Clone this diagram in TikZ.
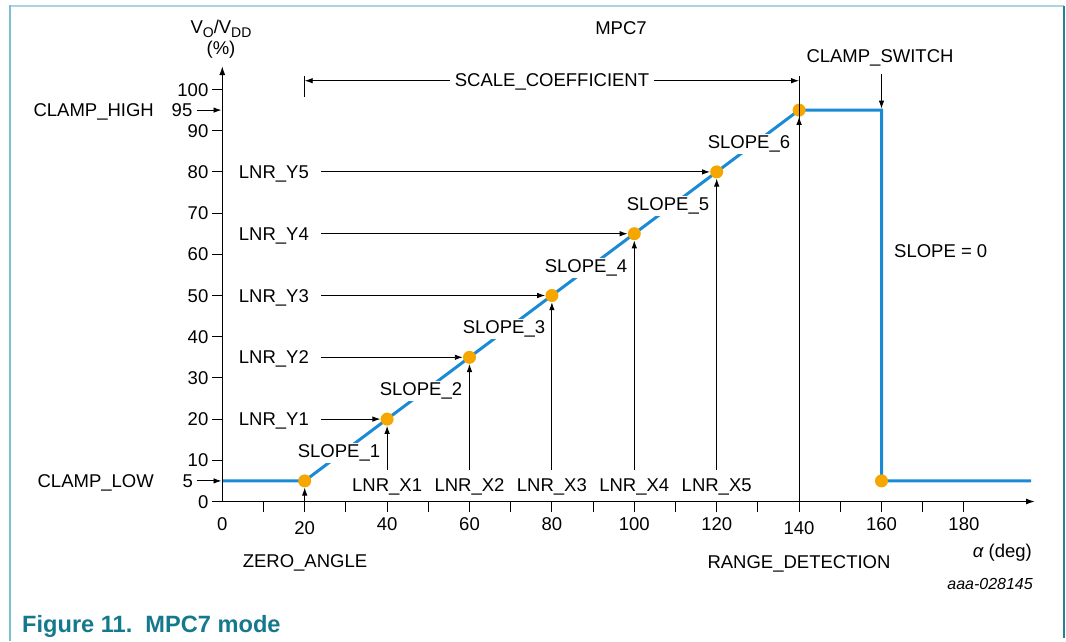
\documentclass[tikz,border=0pt]{standalone}
\usepackage{fontspec}
\setmainfont{Liberation Sans}
\usetikzlibrary{arrows.meta}
\definecolor{curveblue}{HTML}{1A8AD4}
\definecolor{dotorange}{HTML}{F5A700}
\definecolor{captionteal}{HTML}{14798C}
\definecolor{frametop}{HTML}{A9D5E0}
\definecolor{frameleft}{HTML}{7BBFD0}
\definecolor{frameright}{HTML}{1E8595}
\newcommand{\mysub}[1]{\raisebox{-4pt}{\fontsize{14}{14}\selectfont #1}}
\begin{document}
\begin{tikzpicture}[x=1pt,y=-1pt,
  lbl/.style={font=\fontsize{18.5}{20}\selectfont, inner sep=0pt, text height=13pt, text depth=0pt},
  slopelbl/.style={lbl, fill=white, inner sep=1.5pt, text depth=4pt},
  arr/.style={-{Latex[length=8pt,width=5.5pt]}, line width=0.9pt},
  axisln/.style={line width=1.4pt},
  tickln/.style={line width=1pt},
  thinln/.style={line width=0.9pt},
  curveln/.style={line width=3pt, draw=curveblue, line join=miter},
  dotnode/.style={circle, fill=dotorange, minimum size=13pt, inner sep=0pt},
]
\useasboundingbox (0,0) rectangle (1066,641);
% frame
\draw[frametop, line width=2pt] (9,6) -- (1064,6);
\draw[frameleft, line width=2pt] (10,5) -- (10,641);
\draw[frameright, line width=1.5pt] (1064,6) -- (1064,638);

% data points
\coordinate (p0) at (222.3,480.9);
\coordinate (p1) at (304.7,480.9);
\coordinate (p2) at (387.1,419.1);
\coordinate (p3) at (469.5,357.3);
\coordinate (p4) at (551.9,295.5);
\coordinate (p5) at (634.3,233.7);
\coordinate (p6) at (716.7,171.9);
\coordinate (p7) at (799.1,110.1);
\coordinate (p8) at (881.5,110.1);
\coordinate (p9) at (881.5,480.9);
\coordinate (p10) at (1031,480.9);

% curve
\draw[curveln] (p0) -- (p1) -- (p2) -- (p3) -- (p4) -- (p5) -- (p6) -- (p7) -- (p8) -- (p9) -- (p10);

% slope labels (white background breaks the curve)
\node[slopelbl] (s1) at (339,453) {SLOPE\_1};
\node[slopelbl] (s2) at (421,391) {SLOPE\_2};
\node[slopelbl] (s3) at (504,329) {SLOPE\_3};
\node[slopelbl] (s4) at (586,268) {SLOPE\_4};
\node[slopelbl] (s5) at (668,206) {SLOPE\_5};
\node[slopelbl] (s6) at (749,144) {SLOPE\_6};
\node[lbl,anchor=west] (s0) at (894,251) {SLOPE = 0};

% axes
\coordinate (xa0) at (212,501.5);
\coordinate (xa1) at (1035,501.5);
\coordinate (ya0) at (222.3,501.5);
\coordinate (ya1) at (222.3,66);
\draw[axisln,-{Latex[length=9pt,width=6pt]}] (xa0) -- (xa1);
\draw[axisln,-{Latex[length=9pt,width=6pt]}] (ya0) -- (ya1);

% y ticks
\foreach \v in {10,20,...,100}{
  \draw[tickln] (212,{501.5-4.12*\v}) -- (222.3,{501.5-4.12*\v});
}
\foreach \v in {0,10,20,...,100}{
  \node[lbl,anchor=east] (yt\v) at (208.5,{501.5-4.12*\v}) {\v};
}
\node[lbl,anchor=east] (yt95) at (192.5,110.1) {95};
\node[lbl,anchor=east] (yt5) at (193,480.9) {5};
\coordinate (a95) at (197,110.1);
\coordinate (a5) at (197,480.9);
\coordinate (ax95) at (221.5,110.1);
\coordinate (ax5) at (221.5,480.9);
\draw[arr] (a95) -- (ax95);
\draw[arr] (a5) -- (ax5);

% x ticks
\foreach \v in {10,20,...,180}{
  \draw[tickln] ({222.3+4.12*\v},501.5) -- ({222.3+4.12*\v},511.5);
}
\foreach \v in {0,40,60,80,100,120,160,180}{
  \node[lbl] (xt\v) at ({222.3+4.12*\v},524) {\v};
}
\node[lbl] (xt20) at (304.7,528) {20};
\node[lbl] (xt140) at (799.1,528) {140};

% axis titles
\node[font=\fontsize{18.5}{20}\selectfont, inner sep=0pt, anchor=base] (ytitle) at (221,33.5) {V\mysub{O}/V\mysub{DD}};
\node[font=\fontsize{18.5}{20}\selectfont, inner sep=0pt, anchor=base] (yunit) at (221,54.4) {(\%)};
\node[lbl,anchor=east] (xtitle) at (1032,551) {{\itshape α} (deg)};
\node[lbl] (title) at (621,28) {MPC7};

% left labels
\node[lbl,anchor=east] (chigh) at (154,110.1) {CLAMP\_HIGH};
\node[lbl,anchor=east] (clow) at (154,480.9) {CLAMP\_LOW};

% dots
\node[dotnode] (d1) at (p1) {};
\node[dotnode] (d2) at (p2) {};
\node[dotnode] (d3) at (p3) {};
\node[dotnode] (d4) at (p4) {};
\node[dotnode] (d5) at (p5) {};
\node[dotnode] (d6) at (p6) {};
\node[dotnode] (d7) at (p7) {};
\node[dotnode] (d8) at (p9) {};

% LNR_Y arrows
\node[lbl,anchor=east] (ly1) at (309,419.1) {LNR\_Y1};
\node[lbl,anchor=east] (ly2) at (309,357.3) {LNR\_Y2};
\node[lbl,anchor=east] (ly3) at (309,295.5) {LNR\_Y3};
\node[lbl,anchor=east] (ly4) at (309,233.7) {LNR\_Y4};
\node[lbl,anchor=east] (ly5) at (309,171.9) {LNR\_Y5};
\coordinate (lys1) at (321,419.1);
\coordinate (lys2) at (321,357.3);
\coordinate (lys3) at (321,295.5);
\coordinate (lys4) at (321,233.7);
\coordinate (lys5) at (321,171.9);
\draw[arr] (lys1) -- (d2);
\draw[arr] (lys2) -- (d3);
\draw[arr] (lys3) -- (d4);
\draw[arr] (lys4) -- (d5);
\draw[arr] (lys5) -- (d6);

% LNR_X arrows
\node[lbl] (lx1) at (387.1,485) {LNR\_X1};
\node[lbl] (lx2) at (469.5,485) {LNR\_X2};
\node[lbl] (lx3) at (551.9,485) {LNR\_X3};
\node[lbl] (lx4) at (634.3,485) {LNR\_X4};
\node[lbl] (lx5) at (716.7,485) {LNR\_X5};
\coordinate (lxs1) at (387.1,470);
\coordinate (lxs2) at (469.5,470);
\coordinate (lxs3) at (551.9,470);
\coordinate (lxs4) at (634.3,470);
\coordinate (lxs5) at (716.7,470);
\draw[arr] (lxs1) -- (d2);
\draw[arr] (lxs2) -- (d3);
\draw[arr] (lxs3) -- (d4);
\draw[arr] (lxs4) -- (d5);
\draw[arr] (lxs5) -- (d6);

% zero angle
\coordinate (za) at (304.7,501.5);
\draw[arr] (za) -- (d1);
\node[lbl] (zero) at (305,561) {ZERO\_ANGLE};

% range detection
\coordinate (rd0) at (799.1,501.5);
\coordinate (rd1) at (799.1,76);
\draw[thinln] (rd0) -- (rd1);
\draw[arr] (rd0) -- (d7);
\node[lbl] (range) at (799,562) {RANGE\_DETECTION};

% scale coefficient
\coordinate (sb0) at (304.7,76);
\coordinate (sb1) at (304.7,97);
\draw[thinln] (sb0) -- (sb1);
\coordinate (sca) at (304.7,80.7);
\coordinate (scb) at (799.1,80.7);
\node[lbl, inner xsep=5pt] (scale) at (552,80) {SCALE\_COEFFICIENT};
\draw[arr] (scale.west |- sca) -- (sca);
\draw[arr] (scale.east |- scb) -- (scb);

% clamp switch
\node[lbl] (cswitch) at (880,56) {CLAMP\_SWITCH};
\coordinate (cs0) at (881.5,74);
\coordinate (cs1) at (881.5,108.6);
\draw[arr] (cs0) -- (cs1);

% reference code and caption
\node[font=\fontsize{16}{18}\selectfont\itshape, inner sep=0pt, anchor=east, text height=11.5pt, text depth=0pt] (ref) at (1033,584) {aaa-028145};
\node[font=\fontsize{23.6}{26}\selectfont\bfseries, text=captionteal, inner sep=0pt, anchor=base west] (cap) at (22,632) {Figure 11.\ \ MPC7 mode};
\end{tikzpicture}
\end{document}
